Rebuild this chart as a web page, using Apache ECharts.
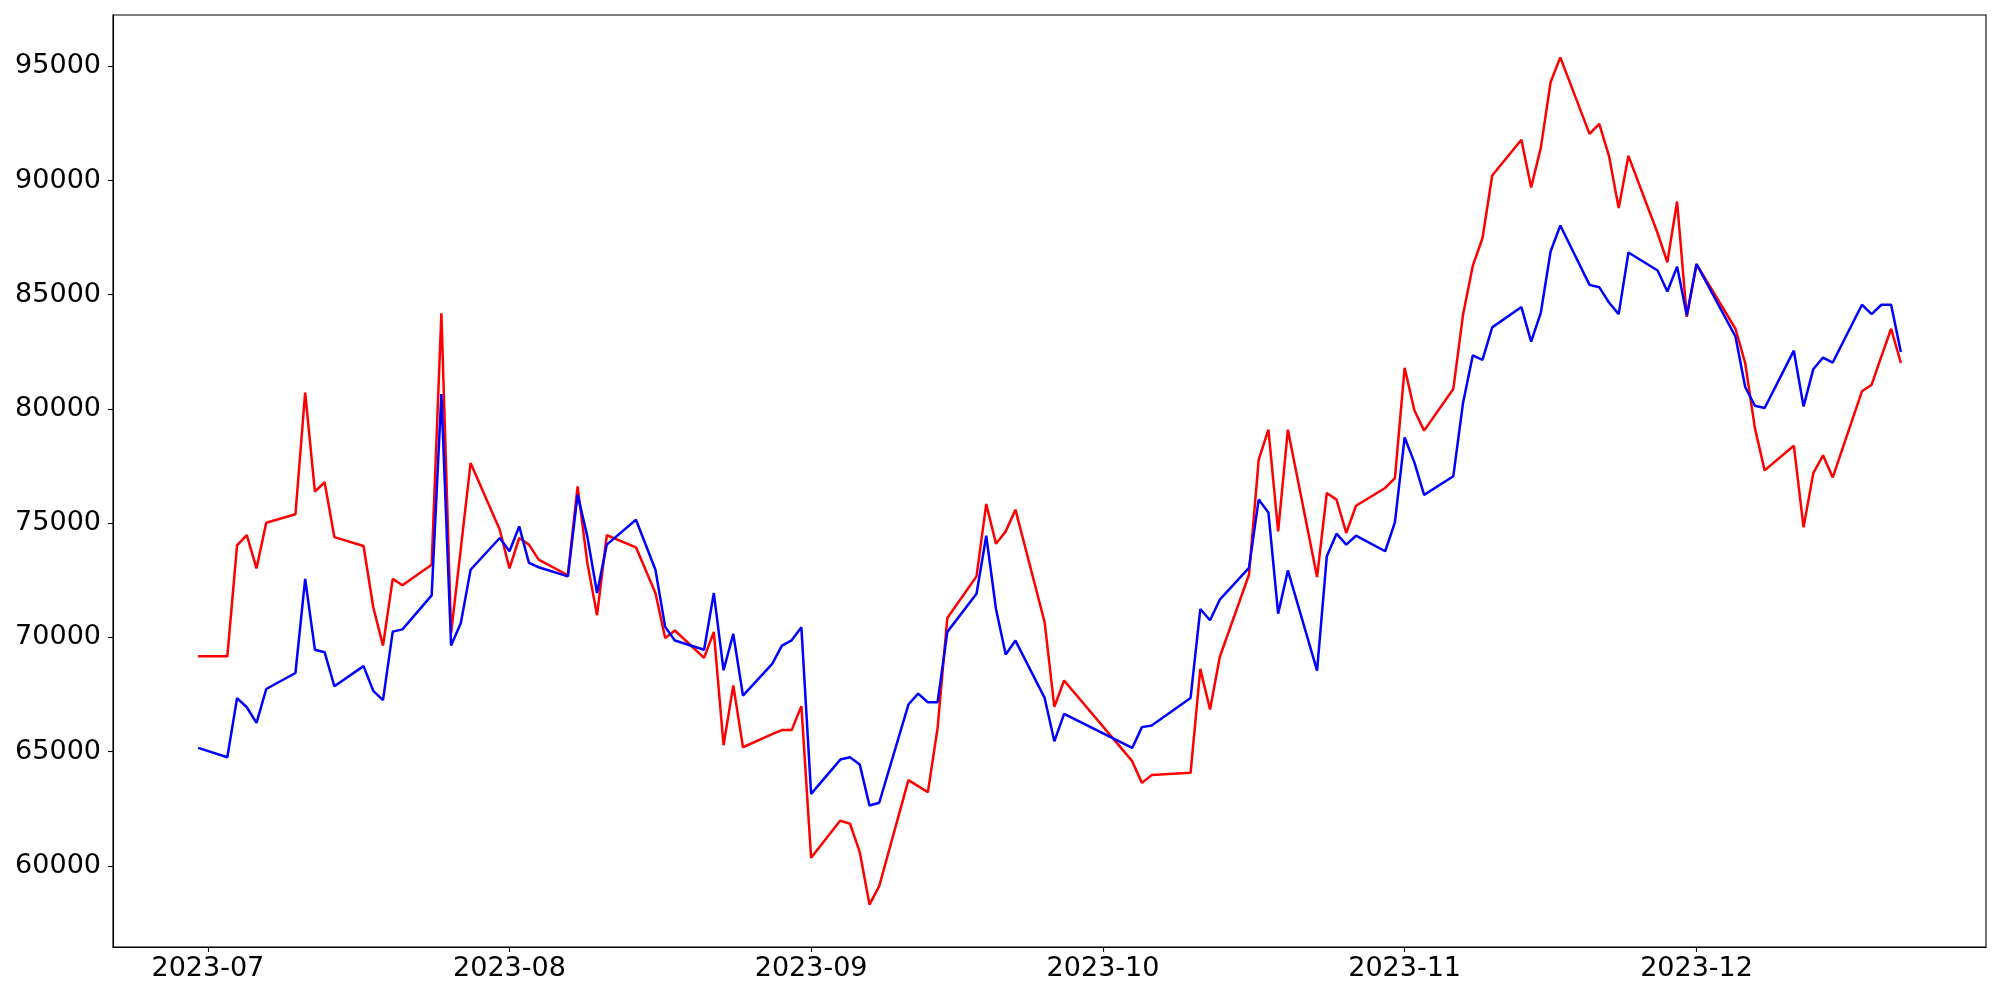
<!DOCTYPE html>
<html>
<head>
<meta charset="utf-8">
<script src="https://cdn.jsdelivr.net/npm/echarts@6/dist/echarts.min.js"></script>
<style>
html,body{margin:0;padding:0;background:#fff;}
#chart{width:2000px;height:1000px;}
</style>
</head>
<body>
<div id="chart"></div>
<script>
const dates = [
 '2023-06-30','2023-07-03','2023-07-04','2023-07-05','2023-07-06','2023-07-07','2023-07-10','2023-07-11','2023-07-12','2023-07-13','2023-07-14','2023-07-17','2023-07-18','2023-07-19','2023-07-20','2023-07-21','2023-07-24','2023-07-25','2023-07-26','2023-07-27','2023-07-28','2023-07-31',
 '2023-08-01','2023-08-02','2023-08-03','2023-08-04','2023-08-07','2023-08-08','2023-08-09','2023-08-10','2023-08-11','2023-08-14','2023-08-16','2023-08-17','2023-08-18','2023-08-21','2023-08-22','2023-08-23','2023-08-24','2023-08-25','2023-08-28','2023-08-29','2023-08-30','2023-08-31',
 '2023-09-01','2023-09-04','2023-09-05','2023-09-06','2023-09-07','2023-09-08','2023-09-11','2023-09-12','2023-09-13','2023-09-14','2023-09-15','2023-09-18','2023-09-19','2023-09-20','2023-09-21','2023-09-22','2023-09-25','2023-09-26','2023-09-27',
 '2023-10-04','2023-10-05','2023-10-06','2023-10-10','2023-10-11','2023-10-12','2023-10-13','2023-10-16','2023-10-17','2023-10-18','2023-10-19','2023-10-20','2023-10-23','2023-10-24','2023-10-25','2023-10-26','2023-10-27','2023-10-30','2023-10-31',
 '2023-11-01','2023-11-02','2023-11-03','2023-11-06','2023-11-07','2023-11-08','2023-11-09','2023-11-10','2023-11-13','2023-11-14','2023-11-15','2023-11-16','2023-11-17','2023-11-20','2023-11-21','2023-11-22','2023-11-23','2023-11-24','2023-11-27','2023-11-28','2023-11-29','2023-11-30',
 '2023-12-01','2023-12-05','2023-12-06','2023-12-07','2023-12-08','2023-12-11','2023-12-12','2023-12-13','2023-12-14','2023-12-15','2023-12-18','2023-12-19','2023-12-20','2023-12-21','2023-12-22'
];

const redValues = [
 69170,69170,74030,74480,73020,75020,75390,80720,76380,76790,74390,74000,71320,69640,72560,72280,73180,84190,70200,73900,77630,74710,
 73020,74350,74060,73400,72720,76610,73260,70970,74470,73940,71940,69970,70300,69100,70240,65280,67900,65190,65760,65940,65940,66990,
 60350,61980,61840,60600,58300,59110,63750,63490,63220,66040,70850,72670,75840,74100,74640,75590,70660,66960,68110,
 64580,63630,63970,64070,68620,66840,69140,72740,77780,79090,74640,79090,72640,76320,76030,74570,75760,76540,76970,
 81800,79940,79050,80870,84120,86260,87470,90220,91780,89690,91440,94300,95390,92040,92480,91080,88790,91080,87690,86420,89080,84030,
 86340,83510,82010,79160,77310,78390,74820,77190,77970,77000,80770,81060,82300,83510,82010
];

const blueValues = [
 65160,64750,67340,66940,66260,67740,68440,72560,69460,69350,67860,68740,67660,67250,70250,70350,71840,80650,69640,70630,72960,74350,
 73770,74860,73260,73070,72670,76250,74420,71940,74060,75150,72960,70460,69860,69460,71940,68560,70150,67450,68840,69640,69870,70440,
 63150,64650,64750,64430,62640,62760,67060,67540,67160,67160,70240,71910,74450,71240,69250,69860,67350,65450,66650,
 65160,66070,66140,67350,71240,70750,71650,73040,76030,75470,71040,72930,68540,73550,74540,74060,74450,73770,75030,
 78750,77660,76240,77050,80260,82340,82150,83570,84460,82950,84220,86890,88030,85430,85330,84660,84150,86850,86060,85140,86230,84100,
 86340,83170,80960,80140,80040,82550,80110,81740,82250,82030,84560,84150,84560,84560,82490
];

const xTickLabels = ['2023-07','2023-08','2023-09','2023-10','2023-11','2023-12'];
const yTickValues = [60000,65000,70000,75000,80000,85000,90000,95000];

function ts(s){ const p=s.split('-').map(Number); return Date.UTC(p[0],p[1]-1,p[2]||1); }

const xs = dates.map(ts);
const xSpan = xs[xs.length-1]-xs[0];
const xMin = xs[0]-0.05*xSpan, xMax = xs[xs.length-1]+0.05*xSpan;
const allV = redValues.concat(blueValues);
const vMin = Math.min.apply(null, allV), vMax = Math.max.apply(null, allV);
const ySpan = vMax - vMin;
const yMin = vMin-0.05*ySpan, yMax = vMax+0.05*ySpan;
const xTickValues = xTickLabels.map(ts);

const font = 'DejaVu Sans';
const chart = echarts.init(document.getElementById('chart'), null, {renderer:'canvas'});
chart.setOption({
  animation:false,
  backgroundColor:'#fff',
  grid:{left:113, right:14, top:15, bottom:53, show:true, borderColor:'#000', borderWidth:1.1, backgroundColor:'transparent'},
  xAxis:{
    type:'value', min:xMin, max:xMax, scale:true,
    axisLine:{show:true, lineStyle:{color:'#000', width:1.1}},
    axisTick:{show:true, length:5, lineStyle:{color:'#000', width:1.1}, customValues:xTickValues},
    axisLabel:{show:true, fontFamily:font, fontSize:27, color:'#000', margin:8, customValues:xTickValues,
      formatter:function(v){ let best=0, bd=Infinity; xTickValues.forEach((t,i)=>{const d=Math.abs(t-v); if(d<bd){bd=d;best=i;}}); return xTickLabels[best]; }},
    splitLine:{show:false}
  },
  yAxis:{
    type:'value', min:yMin, max:yMax, scale:true,
    axisLine:{show:true, lineStyle:{color:'#000', width:1.1}},
    axisTick:{show:true, length:5, lineStyle:{color:'#000', width:1.1}, customValues:yTickValues},
    axisLabel:{show:true, fontFamily:font, fontSize:27, color:'#000', margin:12, customValues:yTickValues, formatter:function(v){return String(Math.round(v));}},
    splitLine:{show:false}
  },
  series:[
    {type:'line', data:xs.map((x,i)=>[x,redValues[i]]), showSymbol:false, symbol:'none', lineStyle:{color:'#ff0000', width:2.5}, itemStyle:{color:'#ff0000'}, z:2},
    {type:'line', data:xs.map((x,i)=>[x,blueValues[i]]), showSymbol:false, symbol:'none', lineStyle:{color:'#0000ff', width:2.5}, itemStyle:{color:'#0000ff'}, z:3}
  ]
});
</script>
</body>
</html>
